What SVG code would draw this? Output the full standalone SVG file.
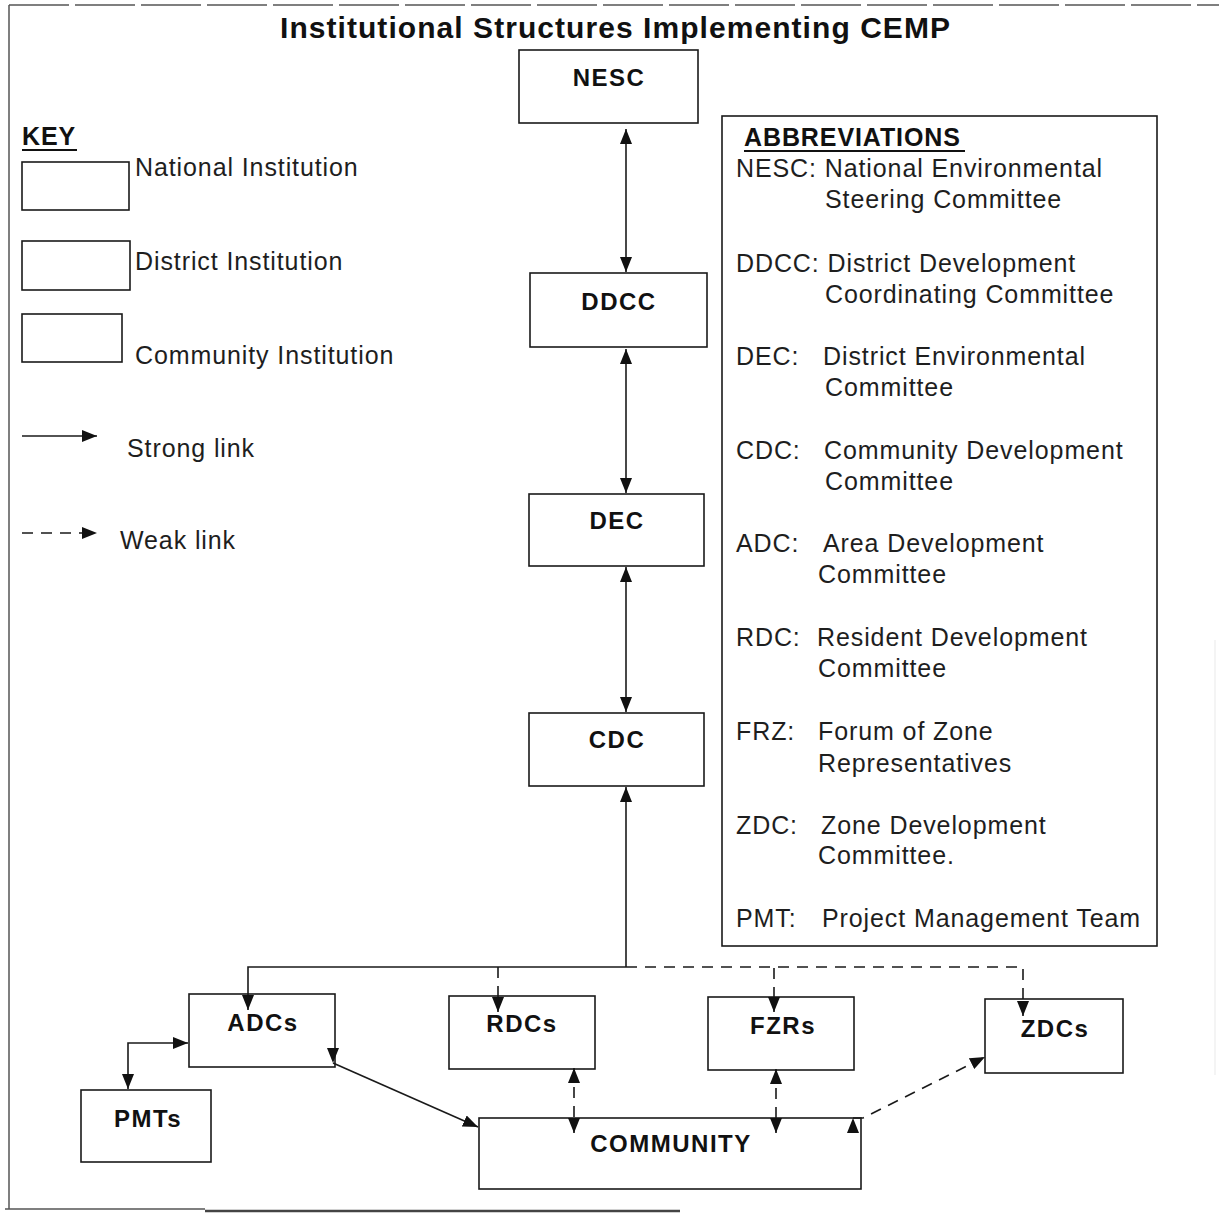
<svg xmlns="http://www.w3.org/2000/svg" width="1219" height="1213" viewBox="0 0 1219 1213">
  <style>
    .frame { fill: none; stroke: #555; stroke-width: 1.5; }
    .box { fill: #fff; stroke: #1a1a1a; stroke-width: 1.6; }
    .lbl { font-family: "Liberation Sans", Arial, sans-serif; font-size: 24px; font-weight: bold; fill: #111; letter-spacing: 1.5px; text-anchor: middle; }
    .txt { font-family: "Liberation Sans", Arial, sans-serif; font-size: 25px; fill: #1e1e1e; letter-spacing: 0.9px; }
    .hdr { font-family: "Liberation Sans", Arial, sans-serif; font-size: 25px; font-weight: bold; fill: #111; letter-spacing: 0.9px; }
    .title { font-family: "Liberation Sans", Arial, sans-serif; font-size: 30px; font-weight: bold; fill: #111; }
    .strong { fill: none; stroke: #1a1a1a; stroke-width: 1.6; }
    .weak { fill: none; stroke: #1a1a1a; stroke-width: 1.6; stroke-dasharray: 11 8; }
    .uline { stroke: #111; stroke-width: 2; }
  </style>
  <defs>
    <marker id="arr" markerUnits="userSpaceOnUse" markerWidth="15" markerHeight="12" refX="15" refY="6" orient="auto-start-reverse">
      <path d="M0,0 L15,6 L0,12 Z" fill="#111"/>
    </marker>
    <marker id="arrDown" markerUnits="userSpaceOnUse" markerWidth="15" markerHeight="12" refX="15" refY="6" orient="90">
      <path d="M0,0 L15,6 L0,12 Z" fill="#111"/>
    </marker>
    <marker id="arrUp" markerUnits="userSpaceOnUse" markerWidth="15" markerHeight="12" refX="15" refY="6" orient="-90">
      <path d="M0,0 L15,6 L0,12 Z" fill="#111"/>
    </marker>
  </defs>

  <rect width="1219" height="1213" fill="#fff"/>

  <!-- page frame -->
  <g id="frame">
    <line class="frame" x1="9" y1="5" x2="1219" y2="5" stroke-dasharray="60 6"/>
    <line class="frame" x1="9" y1="5" x2="9" y2="1209"/>
    <line class="frame" x1="5" y1="1209" x2="205" y2="1209"/>
    <line x1="205" y1="1211" x2="680" y2="1211" stroke="#444" stroke-width="2.5"/>
    <line x1="1215" y1="640" x2="1215" y2="1075" stroke="#f0f0f0" stroke-width="1.5"/>
  </g>

  <text class="title" x="280" y="38" textLength="670" lengthAdjust="spacing">Institutional Structures Implementing CEMP</text>

  <!-- legend -->
  <g id="key">
    <text class="hdr" x="22" y="145">KEY</text>
    <line class="uline" x1="22" y1="150" x2="77" y2="150"/>
    <rect class="box" x="22" y="162" width="107" height="48"/>
    <text class="txt" x="135" y="176">National Institution</text>
    <rect class="box" x="22" y="241" width="108" height="49"/>
    <text class="txt" x="135" y="270">District Institution</text>
    <rect class="box" x="22" y="314" width="100" height="48"/>
    <text class="txt" x="135" y="364">Community Institution</text>
    <line class="strong" x1="22" y1="436" x2="97" y2="436" marker-end="url(#arr)"/>
    <text class="txt" x="127" y="457">Strong link</text>
    <line class="weak" x1="22" y1="533" x2="97" y2="533" marker-end="url(#arr)"/>
    <text class="txt" x="120" y="549">Weak link</text>
  </g>

  <!-- abbreviations panel -->
  <g id="abbreviations">
    <rect class="box" x="722" y="116" width="435" height="830"/>
    <text class="hdr" x="744" y="146">ABBREVIATIONS</text>
    <line class="uline" x1="744" y1="151" x2="965" y2="151"/>
    <text class="txt" x="736" y="177">NESC: National Environmental</text>
    <text class="txt" x="825" y="208">Steering Committee</text>
    <text class="txt" x="736" y="272">DDCC: District Development</text>
    <text class="txt" x="825" y="303">Coordinating Committee</text>
    <text class="txt" x="736" y="365">DEC:</text>
    <text class="txt" x="823" y="365">District Environmental</text>
    <text class="txt" x="825" y="396">Committee</text>
    <text class="txt" x="736" y="459">CDC:</text>
    <text class="txt" x="824" y="459">Community Development</text>
    <text class="txt" x="825" y="490">Committee</text>
    <text class="txt" x="736" y="552">ADC:</text>
    <text class="txt" x="823" y="552">Area Development</text>
    <text class="txt" x="818" y="583">Committee</text>
    <text class="txt" x="736" y="646">RDC:</text>
    <text class="txt" x="817" y="646">Resident Development</text>
    <text class="txt" x="818" y="677">Committee</text>
    <text class="txt" x="736" y="740">FRZ:</text>
    <text class="txt" x="818" y="740">Forum of Zone</text>
    <text class="txt" x="818" y="772">Representatives</text>
    <text class="txt" x="736" y="834">ZDC:</text>
    <text class="txt" x="821" y="834">Zone Development</text>
    <text class="txt" x="818" y="864">Committee.</text>
    <text class="txt" x="736" y="927">PMT:</text>
    <text class="txt" x="822" y="927">Project Management Team</text>
  </g>

  <!-- institutions -->
  <g id="nesc"><rect class="box" x="519" y="50" width="179" height="73"/><text class="lbl" x="609" y="86">NESC</text></g>
  <g id="ddcc"><rect class="box" x="530" y="273" width="177" height="74"/><text class="lbl" x="619" y="310">DDCC</text></g>
  <g id="dec"><rect class="box" x="529" y="494" width="175" height="72"/><text class="lbl" x="617" y="529">DEC</text></g>
  <g id="cdc"><rect class="box" x="529" y="713" width="175" height="73"/><text class="lbl" x="617" y="748">CDC</text></g>
  <g id="adcs"><rect class="box" x="189" y="994" width="146" height="73"/><text class="lbl" x="263" y="1031">ADCs</text></g>
  <g id="rdcs"><rect class="box" x="449" y="996" width="146" height="73"/><text class="lbl" x="522" y="1032">RDCs</text></g>
  <g id="fzrs"><rect class="box" x="708" y="997" width="146" height="73"/><text class="lbl" x="783" y="1034">FZRs</text></g>
  <g id="zdcs"><rect class="box" x="985" y="999" width="138" height="74"/><text class="lbl" x="1055" y="1037">ZDCs</text></g>
  <g id="pmts"><rect class="box" x="81" y="1090" width="130" height="72"/><text class="lbl" x="148" y="1127">PMTs</text></g>
  <g id="community"><rect class="box" x="479" y="1118" width="382" height="71"/><text class="lbl" x="671" y="1152">COMMUNITY</text></g>

  <!-- links -->
  <g id="connectors">
    <line class="strong" x1="626" y1="129" x2="626" y2="272" marker-start="url(#arr)" marker-end="url(#arr)"/>
    <line class="strong" x1="626" y1="349" x2="626" y2="493" marker-start="url(#arr)" marker-end="url(#arr)"/>
    <line class="strong" x1="626" y1="567" x2="626" y2="712" marker-start="url(#arr)" marker-end="url(#arr)"/>
    <path class="strong" d="M626,967 V787" marker-end="url(#arr)"/>
    <path class="strong" d="M626,967 H248 V1010" marker-end="url(#arr)"/>
    <path class="weak" d="M626,967 H1023 V1016" marker-end="url(#arr)"/>
    <path class="weak" d="M498,967 V1012" marker-end="url(#arr)"/>
    <path class="weak" d="M774,968 V1012" marker-end="url(#arr)"/>
    <path class="strong" d="M188,1043 H128 V1089" marker-start="url(#arr)" marker-end="url(#arr)"/>
    <path class="strong" d="M333,1063 L478,1127" marker-start="url(#arrDown)" marker-end="url(#arr)"/>
    <path class="weak" d="M574,1068 V1133" marker-start="url(#arr)" marker-end="url(#arr)"/>
    <path class="weak" d="M776,1069 V1133" marker-start="url(#arr)" marker-end="url(#arr)"/>
    <path class="weak" d="M853,1118 L863,1118 L985,1057" marker-start="url(#arrUp)" marker-end="url(#arr)"/>
  </g>
</svg>
